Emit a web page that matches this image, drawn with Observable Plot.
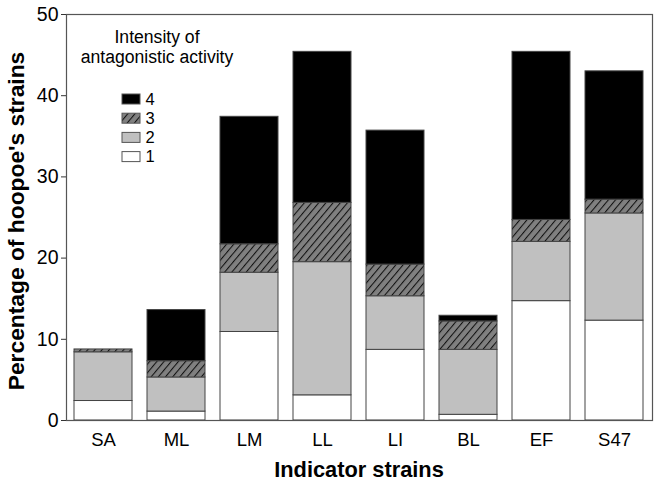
<!DOCTYPE html>
<html>
<head>
<meta charset="utf-8">
<script src="https://cdn.jsdelivr.net/npm/d3@7"></script>
<script src="https://cdn.jsdelivr.net/npm/@observablehq/plot@0.6"></script>
<style>
  html, body { margin: 0; padding: 0; background: #fff; }
  #chart { width: 658px; height: 483px; }
</style>
</head>
<body>
<div id="chart"></div>
<script>
const categories = ["SA", "ML", "LM", "LL", "LI", "BL", "EF", "S47"];
const intensity1 = [2.4, 1.1, 10.9, 3.1, 8.7, 0.7, 14.7, 12.3];
const intensity2 = [6.0, 4.2, 7.3, 16.4, 6.6, 8.0, 7.3, 13.2];
const intensity3 = [0.35, 2.0, 3.5, 7.3, 3.9, 3.5, 2.7, 1.7];
const intensity4 = [0, 6.3, 15.7, 18.6, 16.5, 0.7, 20.7, 15.8];
const levels = ["1", "2", "3", "4"];
const levelFills = ["#ffffff", "#c0c0c0", "url(#hatch)", "#000000"];
const yTicks = [0, 10, 20, 30, 40, 50];
const legendTitle = ["Intensity of", "antagonistic activity"];

const series = [intensity1, intensity2, intensity3, intensity4];
const data = [];
categories.forEach((c, i) => {
  series.forEach((s, k) => {
    data.push({strain: c, level: levels[k], value: s[i], fill: levelFills[k]});
  });
});

const font = "'Liberation Sans', Arial, sans-serif";
const W = 658, H = 483;
const mL = 66, mR = 6, mT = 14, mB = 63;

const plot = Plot.plot({
  width: W,
  height: H,
  marginLeft: mL,
  marginRight: mR,
  marginTop: mT,
  marginBottom: mB,
  style: {fontFamily: font, background: "#fff", color: "#000", overflow: "visible"},
  x: {domain: categories, paddingInner: 0.2, paddingOuter: 0.1, label: null},
  y: {domain: [0, 50], label: null},
  color: {type: "identity"},
  marks: [
    Plot.barY(data, {x: "strain", y: "value", fill: "fill", stroke: "#444", strokeWidth: 1, inset: 0}),
    Plot.frame({stroke: "#555", strokeWidth: 1.2}),
    Plot.axisY({ticks: yTicks, tickSize: 5, tickPadding: 3, fontSize: 19.5, stroke: "#333", label: null}),
    Plot.axisX({tickSize: 0, tickPadding: 12, fontSize: 18.5, label: null})
  ]
});

document.getElementById("chart").appendChild(plot);
const svg = d3.select(plot);

// hatch pattern
const defs = svg.insert("defs", ":first-child");
const pat = defs.append("pattern")
  .attr("id", "hatch")
  .attr("patternUnits", "userSpaceOnUse")
  .attr("width", 5.5)
  .attr("height", 10)
  .attr("patternTransform", "rotate(40)");
pat.append("rect").attr("width", 5.5).attr("height", 10).attr("fill", "#808080");
pat.append("line").attr("x1", 0.5).attr("y1", 0).attr("x2", 0.5).attr("y2", 10)
  .attr("stroke", "#111").attr("stroke-width", 1.1);

// axis titles
svg.append("text")
  .attr("transform", `translate(23.5,221) rotate(-90)`)
  .attr("text-anchor", "middle")
  .attr("font-family", font)
  .attr("font-size", 22.8)
  .attr("font-weight", "bold")
  .text("Percentage of hoopoe's strains");

svg.append("text")
  .attr("x", 359)
  .attr("y", 477)
  .attr("text-anchor", "middle")
  .attr("font-family", font)
  .attr("font-size", 21.8)
  .attr("font-weight", "bold")
  .text("Indicator strains");

// legend
const lg = svg.append("g").attr("font-family", font);
legendTitle.forEach((t, i) => {
  lg.append("text")
    .attr("x", 157).attr("y", 42.5 + i * 20.5)
    .attr("text-anchor", "middle")
    .attr("font-size", 17.6)
    .text(t);
});
const legendOrder = levels.slice().reverse();
legendOrder.forEach((lev, i) => {
  const k = levels.indexOf(lev);
  const cy = 99 + i * 19.2;
  lg.append("rect")
    .attr("x", 122).attr("y", cy - 5).attr("width", 18).attr("height", 10)
    .attr("fill", levelFills[k]).attr("stroke", "#555").attr("stroke-width", 1);
  lg.append("text")
    .attr("x", 150).attr("y", cy + 5.8)
    .attr("font-size", 16.5)
    .text(lev);
});
</script>
</body>
</html>
